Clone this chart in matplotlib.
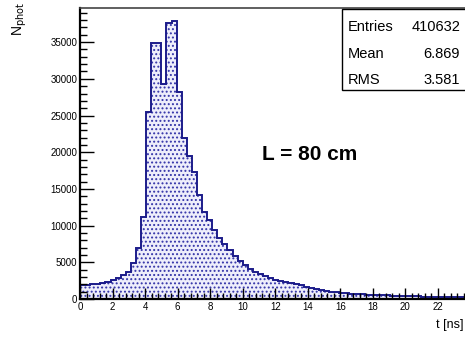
import numpy as np
import matplotlib.pyplot as plt
from matplotlib.ticker import MultipleLocator

plt.rcParams['font.family'] = ['Liberation Sans', 'DejaVu Sans']
plt.rcParams['hatch.linewidth'] = 0.9

# photon arrival time histogram, 80 bins of 0.3125 ns from 0 to 25 ns
t_lo, t_hi, n_bins = 0.0, 25.0, 80
counts = [
    1900, 1950, 2000, 2100, 2200, 2350, 2600, 2800, 3270, 3700,
    4860, 6950, 11200, 25500, 34900, 34900, 29300, 37600, 37900, 28200,
    21900, 19500, 17300, 14200, 11900, 10800, 9400, 8300, 7500, 6700,
    5900, 5200, 4600, 4100, 3700, 3350, 3100, 2850, 2650, 2450,
    2300, 2150, 2000, 1850, 1700, 1450, 1300, 1180, 1080, 990,
    920, 850, 790, 740, 690, 650, 610, 570, 540, 510,
    480, 455, 430, 405, 385, 365, 345, 325, 310, 295,
    280, 265, 250, 240, 230, 215, 205, 195, 185, 175,
]
stat_names = ['Entries', 'Mean', 'RMS']
stat_values = ['410632', '6.869', '3.581']
label_text = 'L = 80 cm'

edges = np.linspace(t_lo, t_hi, n_bins + 1)
navy = '#1c1c8a'

fig = plt.figure(figsize=(4.65, 3.39), dpi=100)
ax = fig.add_axes([80 / 465, 40 / 339, 406.75 / 465, 291 / 339])

ax.stairs(counts, edges, fill=True, facecolor='#eeeefb', edgecolor='#3434a8',
          hatch='....', linewidth=0)
ax.stairs(counts, edges, color=navy, linewidth=1.4)

ax.set_xlim(t_lo, t_hi)
ax.set_ylim(0, 39650)

ax.xaxis.set_major_locator(MultipleLocator(2))
ax.xaxis.set_minor_locator(MultipleLocator(0.4))
ax.yaxis.set_major_locator(MultipleLocator(5000))
ax.yaxis.set_minor_locator(MultipleLocator(1000))
ax.tick_params(which='both', direction='in', top=False, right=False,
               labelsize=7, width=1.0, colors='black')
ax.tick_params(axis='y', which='major', length=10, pad=2)
ax.tick_params(axis='y', which='minor', length=5)
ax.tick_params(axis='x', which='major', length=8, pad=2)
ax.tick_params(axis='x', which='minor', length=4)

for side in ['left', 'bottom']:
    ax.spines[side].set_linewidth(1.6)
ax.spines['top'].set_linewidth(1.2)
ax.spines['top'].set_color('#444444')

fig.text(436 / 465, 1 - 325 / 339, 't [ns]', fontsize=9, ha='left', va='center')
fig.text(0.022, 0.995, r'N$_{\mathrm{phot}}$', fontsize=10, rotation=90,
         ha='left', va='top')

fig.text(262 / 465, 1 - 155 / 339, label_text, fontsize=15, fontweight='bold',
         ha='left', va='center')

# statistics box
box = plt.Rectangle((342 / 465, 1 - 90 / 339), 0.3, 81 / 339,
                    transform=fig.transFigure, facecolor='white',
                    edgecolor='black', linewidth=1.0)
fig.patches.append(box)
for i, (name, val) in enumerate(zip(stat_names, stat_values)):
    y = 1 - (27 + 26.5 * i) / 339
    fig.text(348 / 465, y, name, fontsize=10.5, ha='left', va='center')
    fig.text(460 / 465, y, val, fontsize=10.5, ha='right', va='center')

fig.savefig('out.png', dpi=100)
